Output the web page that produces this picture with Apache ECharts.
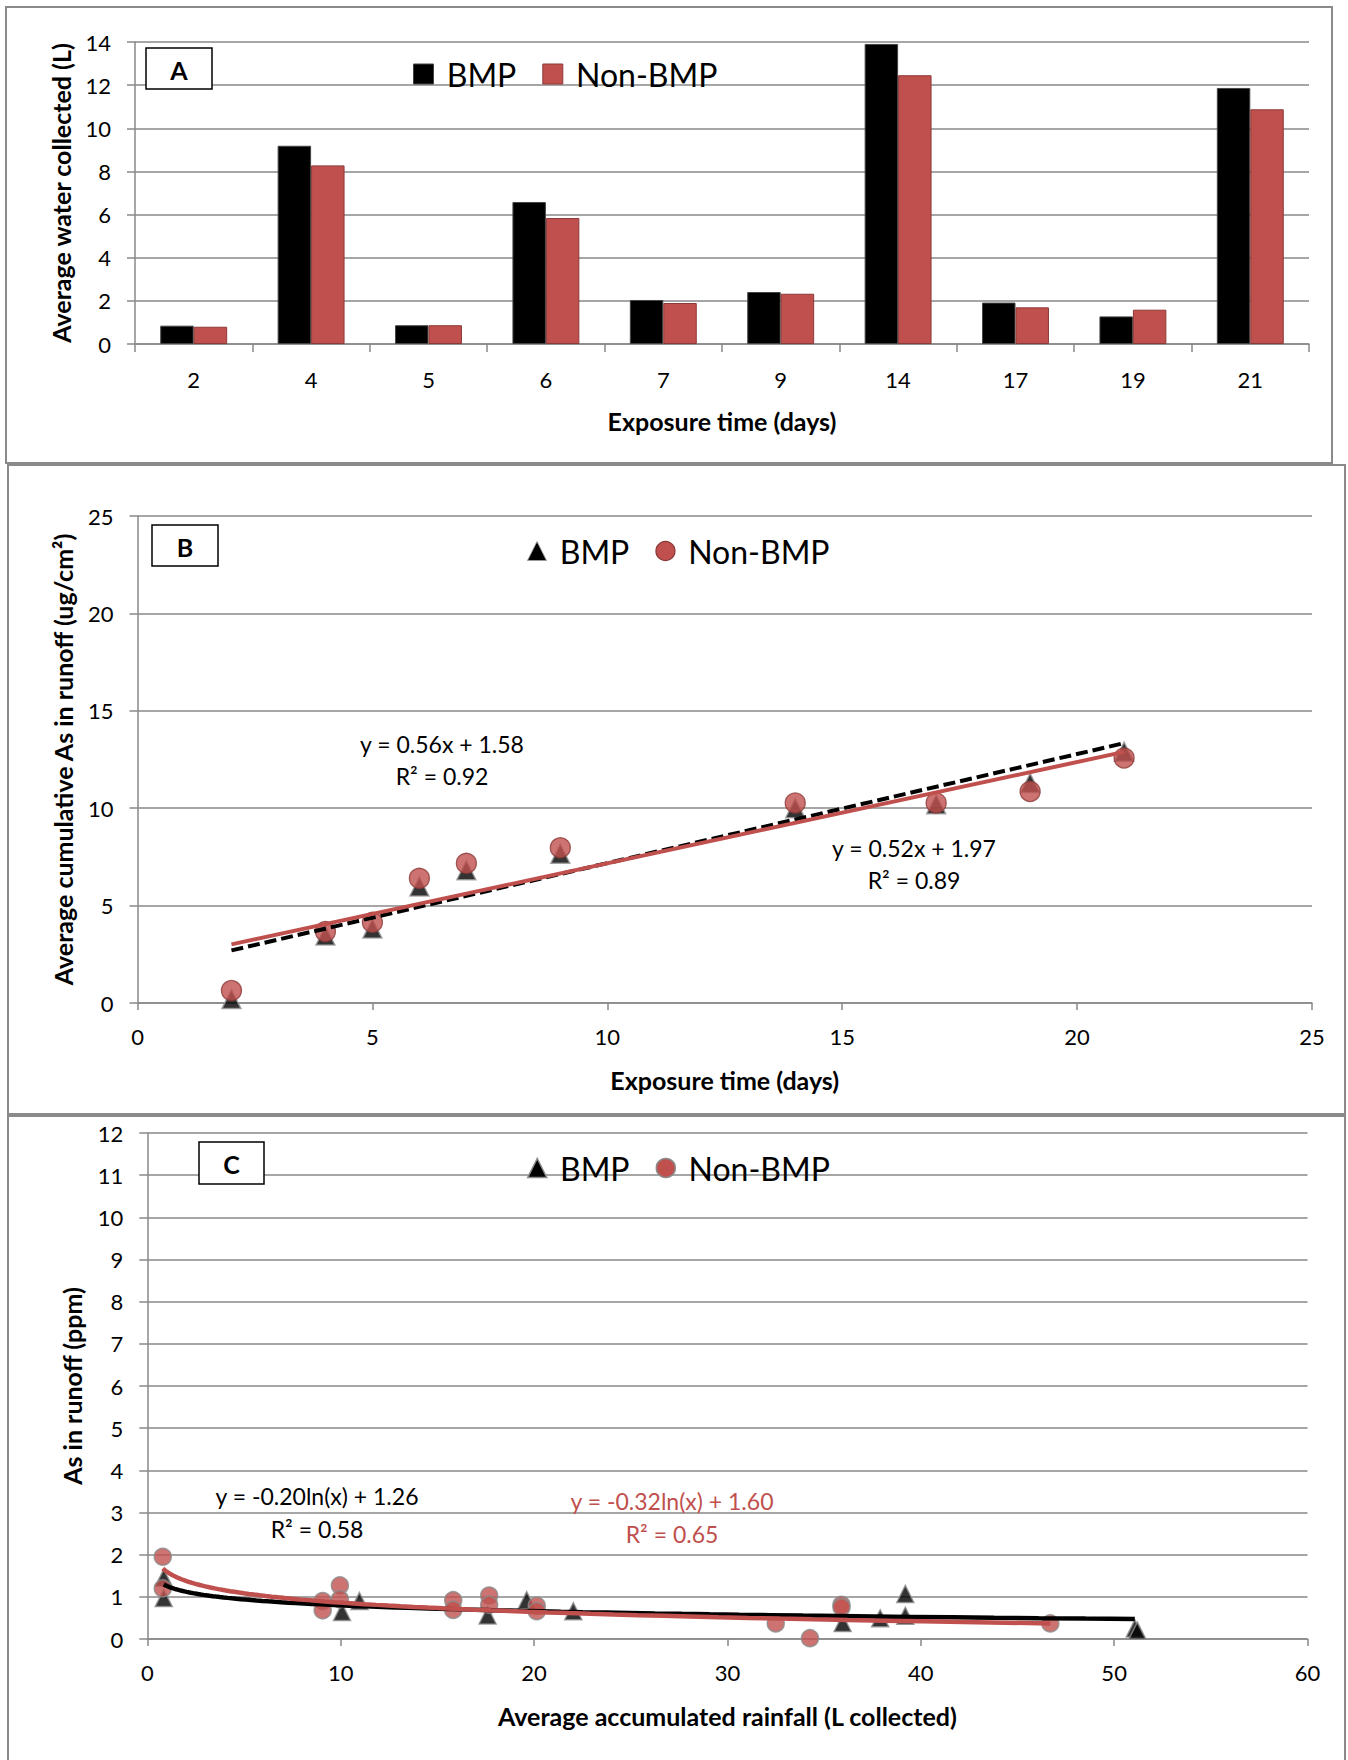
<!DOCTYPE html>
<html><head><meta charset="utf-8">
<script src="https://cdn.jsdelivr.net/npm/echarts@6/dist/echarts.min.js"></script>
<style>html,body{margin:0;padding:0;background:#fff}#c{width:1348px;height:1760px}</style>
</head><body><div id="c"></div><script>
// ---- Panel A: average water collected (L) by exposure time ----
const daysA = ['2','4','5','6','7','9','14','17','19','21'];
const waterBMP = [0.85, 9.19, 0.87, 6.58, 2.04, 2.41, 13.91, 1.92, 1.28, 11.87];
const waterNon = [0.80, 8.28, 0.87, 5.84, 1.90, 2.33, 12.46, 1.70, 1.59, 10.88];

// ---- Panel B: average cumulative As in runoff (ug/cm2) ----
const daysB = [2, 4, 5, 6, 7, 9, 14, 17, 19, 21];
const cumBMP = [0.20, 3.46, 3.82, 5.98, 6.82, 7.66, 10.00, 10.20, 11.30, 12.90];
const cumNon = [0.64, 3.67, 4.14, 6.40, 7.17, 7.97, 10.27, 10.27, 10.86, 12.58];
const trendB_BMP = [0.56, 1.58];   // slope, intercept
const trendB_Non = [0.52, 1.97];
const trendB_range = [2, 21];

// ---- Panel C: As in runoff (ppm) vs accumulated rainfall ----
const rainBMP = [0.85, 0.85, 10.07, 10.97, 17.6, 19.62, 22.03, 35.96, 37.9, 39.2, 39.2, 51.07, 51.2];
const ppmBMP  = [1.45, 0.97, 0.64, 0.90, 0.56, 0.92, 0.66, 0.38, 0.49, 1.07, 0.55, 0.25, 0.20];
const rainNon = [0.8, 0.8, 9.07, 9.07, 9.96, 9.96, 15.82, 15.82, 17.68, 17.68, 20.14, 20.14, 32.5, 34.27, 35.9, 35.9, 46.7];
const ppmNon  = [1.95, 1.20, 0.90, 0.68, 1.27, 0.94, 0.92, 0.69, 1.03, 0.81, 0.79, 0.66, 0.37, 0.02, 0.81, 0.75, 0.37];
const trendC_BMP = [-0.20, 1.26];  // a*ln(x)+b
const trendC_Non = [-0.32, 1.60];
const trendC_BMP_range = [0.85, 51.07];
const trendC_Non_range = [0.8, 46.7];

const GRAY = '#898989', RED = '#C0504D', DRED = '#8C3A38', FONT = 'Lato';
const TICK_FS = 22, TITLE_FS = 25, EQ_FS = 23, LEG_FS = 32;

function linTrend(c, r) { return [[r[0], c[0]*r[0]+c[1]], [r[1], c[0]*r[1]+c[1]]]; }
function logTrend(c, r) {
  const pts = [], n = 80;
  for (let i = 0; i <= n; i++) {
    const x = r[0] * Math.pow(r[1]/r[0], i/n);
    pts.push([x, c[0]*Math.log(x)+c[1]]);
  }
  return pts;
}
function zip(a, b) { return a.map((v, i) => [v, b[i]]); }

function axBase(extra) {
  return Object.assign({
    axisLine: {show: true, lineStyle: {color: GRAY, width: 1.5}},
    axisTick: {show: true, length: 8, lineStyle: {color: GRAY, width: 1.5}},
    axisLabel: {color: '#000', fontFamily: FONT, fontSize: TICK_FS},
    splitLine: {show: false},
    nameLocation: 'middle',
    nameGap: 64,
    nameTextStyle: {color: '#000', fontFamily: FONT, fontSize: TITLE_FS, fontWeight: 'bold'}
  }, extra);
}
function yAx(extra) {
  const o = axBase(extra);
  o.type = 'value';
  o.splitLine = {show: true, lineStyle: {color: GRAY, width: 1.5}};
  o.axisLabel = Object.assign({}, o.axisLabel, {margin: 24});
  return o;
}
function eq(text, x, y, color) {
  return {type: 'text', z: 50, style: {text: text, x: x, y: y, align: 'center', verticalAlign: 'middle',
    textAlign: 'center', textVerticalAlign: 'middle', font: EQ_FS + 'px Lato', fill: color || '#000'}};
}
function tag(letter, x, y, w, h) {
  return [
    {type: 'rect', z: 100, shape: {x: x, y: y, width: w, height: h}, style: {fill: '#fff', stroke: '#000', lineWidth: 1.5}},
    {type: 'text', z: 101, style: {text: letter, x: x + w/2, y: y + h/2 + 1, align: 'center', verticalAlign: 'middle',
      textAlign: 'center', textVerticalAlign: 'middle', font: 'bold 25px Lato', fill: '#000'}}
  ];
}

const legendText = {color: '#000', fontFamily: FONT, fontSize: LEG_FS, lineHeight: 30};

const chart = echarts.init(document.getElementById('c'), null, {renderer: 'svg'});
chart.setOption({
  animation: false,
  textStyle: {fontFamily: FONT},
  grid: [
    {left: 135, top: 42, width: 1174, height: 302},
    {left: 137.5, top: 516, width: 1174.5, height: 487},
    {left: 147.3, top: 1133, width: 1160.2, height: 506}
  ],
  xAxis: [
    axBase({type: 'category', gridIndex: 0, data: daysA, name: 'Exposure time (days)',
            axisLabel: {color: '#000', fontFamily: FONT, fontSize: TICK_FS, margin: 24}}),
    axBase({type: 'value', gridIndex: 1, min: 0, max: 25, interval: 5, name: 'Exposure time (days)',
            axisTick: {show: true, length: 7, lineStyle: {color: GRAY, width: 1.5}},
            axisLabel: {color: '#000', fontFamily: FONT, fontSize: TICK_FS, margin: 22}}),
    axBase({type: 'value', gridIndex: 2, min: 0, max: 60, interval: 10, name: 'Average accumulated rainfall (L collected)',
            axisTick: {show: true, length: 7, lineStyle: {color: GRAY, width: 1.5}},
            axisLabel: {color: '#000', fontFamily: FONT, fontSize: TICK_FS, margin: 22}})
  ],
  yAxis: [
    yAx({gridIndex: 0, min: 0, max: 14, interval: 2, name: 'Average water collected (L)', nameGap: 62}),
    yAx({gridIndex: 1, min: 0, max: 25, interval: 5, name: 'Average cumulative As in runoff (ug/cm²)', nameGap: 62}),
    yAx({gridIndex: 2, min: 0, max: 12, interval: 1, name: 'As in runoff (ppm)', nameGap: 63})
  ],
  legend: [
    {left: 413, top: 58, orient: 'horizontal', itemWidth: 20, itemHeight: 20, itemGap: 26, padding: 0,
     textStyle: legendText, formatter: ' {name}', selectedMode: false,
     data: [
       {name: 'BMP', icon: 'rect', itemStyle: {color: '#000', borderColor: '#444', borderWidth: 1}},
       {name: 'Non-BMP', icon: 'rect', itemStyle: {color: RED, borderColor: DRED, borderWidth: 1}}
     ]},
    {left: 527, top: 535, orient: 'horizontal', itemWidth: 19, itemHeight: 19, itemGap: 26, padding: 0,
     textStyle: legendText, formatter: ' {name}', selectedMode: false,
     data: [
       {name: 'BMP', icon: 'triangle', itemStyle: {color: '#000', borderColor: '#999', borderWidth: 1}},
       {name: 'Non-BMP', icon: 'circle', itemStyle: {color: RED, borderColor: DRED, borderWidth: 1.3}}
     ]},
    {left: 527, top: 1152, orient: 'horizontal', itemWidth: 19, itemHeight: 19, itemGap: 26, padding: 0,
     textStyle: legendText, formatter: ' {name}', selectedMode: false,
     data: [
       {name: 'BMP', icon: 'triangle', itemStyle: {color: '#000', borderColor: '#8a8a8a', borderWidth: 1.5}},
       {name: 'Non-BMP', icon: 'circle', itemStyle: {color: RED, borderColor: '#8a8a8a', borderWidth: 1.5}}
     ]}
  ],
  series: [
    {type: 'bar', name: 'BMP', xAxisIndex: 0, yAxisIndex: 0, data: waterBMP, barGap: '0%', barCategoryGap: '43%',
     itemStyle: {color: '#000', borderColor: '#444', borderWidth: 1}},
    {type: 'bar', name: 'Non-BMP', xAxisIndex: 0, yAxisIndex: 0, data: waterNon, barGap: '0%', barCategoryGap: '43%',
     itemStyle: {color: RED, borderColor: DRED, borderWidth: 1}},

    {type: 'scatter', name: 'BMP', xAxisIndex: 1, yAxisIndex: 1, data: zip(daysB, cumBMP), symbol: 'triangle', symbolSize: 19,
     itemStyle: {color: '#000', borderColor: '#999', borderWidth: 1.5}, z: 2},
    {type: 'scatter', name: 'Non-BMP', xAxisIndex: 1, yAxisIndex: 1, data: zip(daysB, cumNon), symbol: 'circle', symbolSize: 20,
     itemStyle: {color: RED, borderColor: DRED, borderWidth: 1.3}, z: 3},
    {type: 'line', name: 'BMP trend B', xAxisIndex: 1, yAxisIndex: 1, data: linTrend(trendB_BMP, trendB_range), showSymbol: false, silent: true,
     lineStyle: {color: '#000', width: 4, type: [12, 5]}, z: 4},
    {type: 'line', name: 'Non-BMP trend B', xAxisIndex: 1, yAxisIndex: 1, data: linTrend(trendB_Non, trendB_range), showSymbol: false, silent: true,
     lineStyle: {color: RED, width: 4}, z: 4},

    {type: 'scatter', name: 'BMP', xAxisIndex: 2, yAxisIndex: 2, data: zip(rainBMP, ppmBMP), symbol: 'triangle', symbolSize: 17,
     itemStyle: {color: '#000', borderColor: '#8a8a8a', borderWidth: 1.5}, z: 2},
    {type: 'scatter', name: 'Non-BMP', xAxisIndex: 2, yAxisIndex: 2, data: zip(rainNon, ppmNon), symbol: 'circle', symbolSize: 17,
     itemStyle: {color: RED, borderColor: '#8a8a8a', borderWidth: 1.5}, z: 3},
    {type: 'line', name: 'BMP trend C', xAxisIndex: 2, yAxisIndex: 2, data: logTrend(trendC_BMP, trendC_BMP_range), showSymbol: false, silent: true,
     lineStyle: {color: '#000', width: 4.5}, z: 4},
    {type: 'line', name: 'Non-BMP trend C', xAxisIndex: 2, yAxisIndex: 2, data: logTrend(trendC_Non, trendC_Non_range), showSymbol: false, silent: true,
     lineStyle: {color: RED, width: 4.5}, z: 4}
  ],
  graphic: [].concat(
    [
      {type: 'rect', shape: {x: 6, y: 7, width: 1326, height: 456}, style: {fill: 'none', stroke: '#8a8a8a', lineWidth: 2}, silent: true},
      {type: 'rect', shape: {x: 8, y: 465, width: 1337, height: 649}, style: {fill: 'none', stroke: '#8a8a8a', lineWidth: 2}, silent: true},
      {type: 'rect', shape: {x: 8, y: 1116, width: 1337, height: 700}, style: {fill: 'none', stroke: '#8a8a8a', lineWidth: 2}, silent: true}
    ],
    tag('A', 146, 48, 66, 41),
    tag('B', 152, 525, 66, 41),
    tag('C', 199, 1142, 65, 42),
    [
      eq('y = 0.56x + 1.58', 442, 744),
      eq('R² = 0.92', 442, 776),
      eq('y = 0.52x + 1.97', 914, 848),
      eq('R² = 0.89', 914, 880),
      eq('y = -0.20ln(x) + 1.26', 317, 1496),
      eq('R² = 0.58', 317, 1529),
      eq('y = -0.32ln(x) + 1.60', 672, 1501, RED),
      eq('R² = 0.65', 672, 1534, RED)
    ]
  )
});
</script></body></html>
